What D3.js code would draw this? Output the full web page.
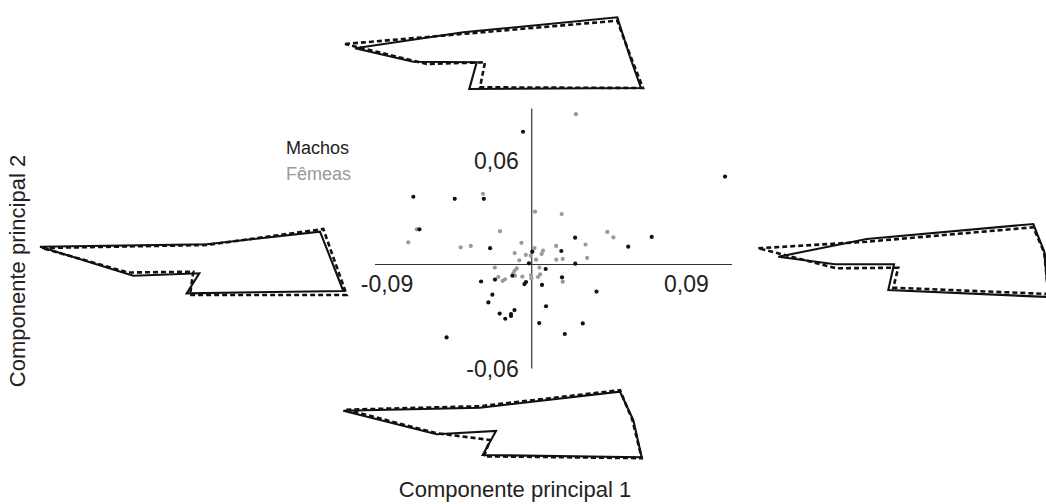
<!DOCTYPE html>
<html>
<head>
<meta charset="utf-8">
<script src="https://cdn.jsdelivr.net/npm/d3@7"></script>
<style>
  body { margin: 0; background: #fff; }
  text { font-family: "Liberation Sans", Arial, sans-serif; }
</style>
</head>
<body>
<script>
// scores on PC1 / PC2
var machosPC1 = [-0.0050, 0.1110, -0.0680, -0.0442, -0.0275, -0.0645, -0.0239, 0.0249, 0.0689, 0.0554, 0.0003, -0.0016, 0.0170, 0.0250, 0.0080, -0.0111, -0.0211, -0.0291, -0.0033, -0.0042, 0.0059, 0.0174, 0.0372, -0.0226, -0.0249, 0.0082, -0.0099, -0.0184, -0.0152, -0.0119, -0.0119, 0.0043, 0.0293, 0.0190, -0.0489];
var machosPC2 = [0.0766, 0.0507, 0.0391, 0.0379, 0.0379, 0.0203, 0.0094, 0.0155, 0.0159, 0.0103, 0.0074, 0.0007, 0.0078, 0.0005, -0.0026, -0.0065, -0.0087, -0.0098, -0.0101, -0.0113, -0.0118, -0.0074, -0.0156, -0.0174, -0.0219, -0.0241, -0.0263, -0.0283, -0.0313, -0.0297, -0.0286, -0.0338, -0.0340, -0.0401, -0.0421];
var femeasPC1 = [0.0254, -0.0280, 0.0019, 0.0172, -0.0660, -0.0709, -0.0408, -0.0350, -0.0182, -0.0059, 0.0016, 0.0140, 0.0065, 0.0057, -0.0098, -0.0034, -0.0006, -0.0071, 0.0025, 0.0141, 0.0178, 0.0309, 0.0318, 0.0434, 0.0469, -0.0212, -0.0086, -0.0098, -0.0106, -0.0096, -0.0192, -0.0153, -0.0167, -0.0054, -0.0004, -0.0002, 0.0048, 0.0036, 0.0178, 0.0044];
var femeasPC2 = [0.0867, 0.0408, 0.0305, 0.0291, 0.0203, 0.0128, 0.0099, 0.0107, 0.0192, 0.0125, 0.0095, 0.0107, 0.0080, 0.0061, 0.0066, 0.0055, 0.0051, 0.0024, 0.0028, 0.0028, 0.0032, 0.0115, 0.0038, 0.0188, 0.0156, -0.0018, -0.0022, -0.0036, -0.0051, -0.0065, -0.0072, -0.0085, -0.0095, -0.0070, -0.0061, -0.0080, -0.0057, -0.0072, -0.0099, -0.0018];

var xTicks = [-0.09, 0.09];
var xTickLabels = ["-0,09", "0,09"];
var yTicks = [0.06, -0.06];
var yTickLabels = ["0,06", "-0,06"];
var legendLabels = ["Machos", "Fêmeas"];

// landmark outlines (tip, upper bend, upper right, right bend, lower right, notch base, notch top, inner bend)
var topSolid    = [[0,0],[108.3,-16],[262.3,-31],[275,8.7],[286,39.7],[114.3,40.7],[121.7,14],[58.3,13.4]];
var topDashed   = [[-10,-4.3],[108,-14.4],[262.3,-27.6],[274,4],[288,39.7],[125,39],[130,14],[71.7,15.7]];
var leftSolid   = [[0,0],[166.7,-2.4],[280,-15],[292,15.3],[303.3,44.3],[146.7,46.6],[159.3,26.6],[93.3,29]];
var leftDashed  = [[2,1.3],[166.7,-1.7],[283.3,-17.7],[295,15.3],[306.7,48.3],[150,48.3],[153.3,25],[88,25.8]];
var rightSolid  = [[0,0],[88.4,-17.7],[255,-32.7],[266,-5],[270,40.3],[110,33.3],[115.7,7.6],[56.7,7.6]];
var rightDashed = [[-20,-8.4],[88.4,-15],[255,-29.4],[266,-4],[270,37.3],[115,31],[120,11],[58.4,11.6]];
var bottomSolid  = [[0,0],[136.7,-3],[276.7,-19],[290,9.3],[298.4,46.6],[139.4,44.3],[152.7,20.3],[93.4,23.6]];
var bottomDashed = [[3,-1],[136.7,-4.5],[276.7,-20.5],[289,9],[298.4,47.5],[140.7,45.6],[146.7,29.3],[93.4,22.5]];

var width = 1046, height = 504;

var svg = d3.select("body").append("svg")
    .attr("width", width).attr("height", height);

var x = d3.scaleLinear().domain([-0.09, 0.115]).range([375, 732]);
var y = d3.scaleLinear().domain([-0.06, 0.09]).range([368.5, 108.5]);

// axes through the origin
svg.append("line")
    .attr("x1", x.range()[0]).attr("x2", x.range()[1])
    .attr("y1", y(0)).attr("y2", y(0))
    .attr("stroke", "#333").attr("stroke-width", 1.2);
svg.append("line")
    .attr("x1", x(0)).attr("x2", x(0))
    .attr("y1", y.range()[1]).attr("y2", y.range()[0])
    .attr("stroke", "#333").attr("stroke-width", 1.2);

svg.selectAll(".xlab").data(xTicks).enter().append("text")
    .attr("class", "xlab")
    .attr("x", function(d, i){ return x(d) + (i == 0 ? 12 : -2); })
    .attr("y", y(0) + 27)
    .attr("text-anchor", "middle")
    .attr("font-size", 23).attr("fill", "#222")
    .text(function(d, i){ return xTickLabels[i]; });

svg.selectAll(".ylab").data(yTicks).enter().append("text")
    .attr("class", "ylab")
    .attr("x", x(0) - 13)
    .attr("y", function(d){ return y(d) + 8; })
    .attr("text-anchor", "end")
    .attr("font-size", 23).attr("fill", "#222")
    .text(function(d, i){ return yTickLabels[i]; });

// points
var femeas = femeasPC1.map(function(v, i){ return {pc1: v, pc2: femeasPC2[i]}; });
var machos = machosPC1.map(function(v, i){ return {pc1: v, pc2: machosPC2[i]}; });

svg.append("g").selectAll("circle").data(femeas).enter().append("circle")
    .attr("cx", function(d){ return x(d.pc1); })
    .attr("cy", function(d){ return y(d.pc2); })
    .attr("r", 2.1).attr("fill", "#9a9a9a");

svg.append("g").selectAll("circle").data(machos).enter().append("circle")
    .attr("cx", function(d){ return x(d.pc1); })
    .attr("cy", function(d){ return y(d.pc2); })
    .attr("r", 2.1).attr("fill", "#111");

// legend
svg.selectAll(".leg").data(legendLabels).enter().append("text")
    .attr("class", "leg")
    .attr("x", 286)
    .attr("y", function(d, i){ return 154 + i * 26; })
    .attr("font-size", 18)
    .attr("fill", function(d, i){ return i == 0 ? "#222" : "#999"; })
    .text(function(d){ return d; });

// axis titles
svg.append("text")
    .attr("x", 515).attr("y", 497)
    .attr("text-anchor", "middle").attr("font-size", 22).attr("fill", "#222")
    .text("Componente principal 1");
svg.append("text")
    .attr("transform", "translate(25,271) rotate(-90)")
    .attr("text-anchor", "middle").attr("font-size", 22).attr("fill", "#222")
    .text("Componente principal 2");

// shape deformations at the extremes of each axis
var panels = [
  {origin: [355, 48.3],    solid: topSolid,    dashed: topDashed},
  {origin: [40, 246.7],    solid: leftSolid,   dashed: leftDashed},
  {origin: [778.3, 256.7], solid: rightSolid,  dashed: rightDashed},
  {origin: [343.3, 410.7], solid: bottomSolid, dashed: bottomDashed}
];

panels.forEach(function(p){
  var sx = d3.scaleLinear().domain([0, 100]).range([p.origin[0], p.origin[0] + 100]);
  var sy = d3.scaleLinear().domain([0, 100]).range([p.origin[1], p.origin[1] + 100]);
  var outline = d3.line()
      .x(function(d){ return sx(d[0]); })
      .y(function(d){ return sy(d[1]); })
      .curve(d3.curveLinearClosed);

  svg.append("path").attr("d", outline(p.dashed))
      .attr("fill", "none").attr("stroke", "#111")
      .attr("stroke-width", 2.6).attr("stroke-dasharray", "5,3");
  svg.append("path").attr("d", outline(p.solid))
      .attr("fill", "none").attr("stroke", "#111")
      .attr("stroke-width", 2.1).attr("stroke-linejoin", "miter");
});
</script>
</body>
</html>
